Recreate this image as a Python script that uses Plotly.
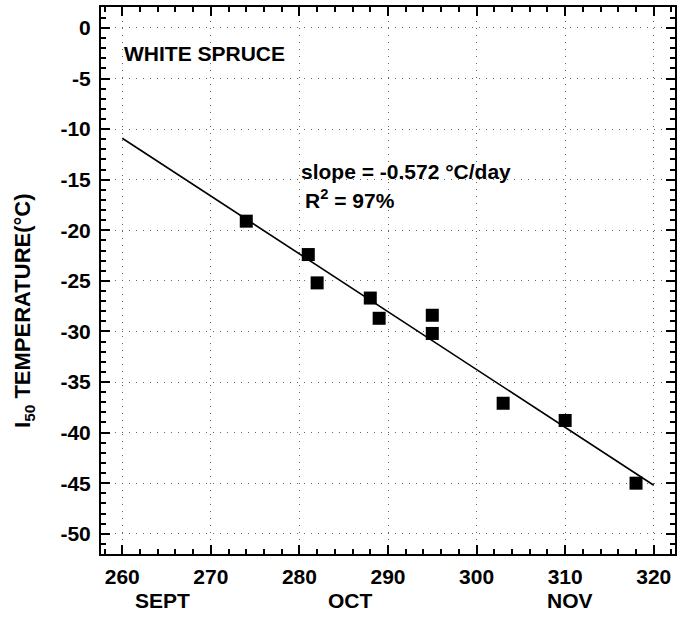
import plotly.graph_objects as go

# Data
day = [274, 281, 282, 288, 289, 295, 295, 303, 310, 318]
i50_temp = [-19.1, -22.4, -25.2, -26.7, -28.7, -28.4, -30.2, -37.1, -38.8, -45.0]

fit_x = [260, 320]
fit_y = [-10.9, -45.2]

x_ticks = [260, 270, 280, 290, 300, 310, 320]
y_ticks = [0, -5, -10, -15, -20, -25, -30, -35, -40, -45, -50]
y_tick_text = ["0", "-5", "-10", "-15", "-20", "-25", "-30", "-35", "-40", "-45", "-50"]
months = ["SEPT", "OCT", "NOV"]
month_pos = [264.5, 285.8, 310.5]

FONT = "Liberation Sans, Arial, sans-serif"
FS = 21

fig = go.Figure()
fig.add_trace(go.Scatter(x=fit_x, y=fit_y, mode="lines",
                         line=dict(color="black", width=1.6),
                         showlegend=False, hoverinfo="skip"))
fig.add_trace(go.Scatter(x=day, y=i50_temp, mode="markers",
                         marker=dict(symbol="square", size=13, color="black"),
                         showlegend=False))

grid_dash = "1px,6px"
fig.update_xaxes(range=[257.6, 322.4], tickvals=x_ticks, ticks="inside",
                 ticklen=9, tickwidth=2, tickcolor="black",
                 minor=dict(dtick=2, ticks="inside", ticklen=5, tickwidth=1.5,
                            tickcolor="black", showgrid=False),
                 showline=True, linecolor="black", linewidth=2, mirror="ticks",
                 showgrid=True, gridcolor="#666", griddash=grid_dash, gridwidth=1,
                 zeroline=False, ticklabelstandoff=3,
                 tickfont=dict(family=FONT, size=FS, color="black", weight="bold"))
fig.update_yaxes(range=[-52, 2.07], tickvals=y_ticks, ticktext=y_tick_text,
                 ticks="inside",
                 ticklen=9, tickwidth=2, tickcolor="black",
                 minor=dict(dtick=1, ticks="inside", ticklen=5, tickwidth=1.5,
                            tickcolor="black", showgrid=False),
                 showline=True, linecolor="black", linewidth=2, mirror="ticks",
                 showgrid=True, gridcolor="#666", griddash=grid_dash, gridwidth=1,
                 zeroline=False, ticklabelstandoff=4,
                 tickfont=dict(family=FONT, size=FS, color="black", weight="bold"))

bold = dict(family=FONT, size=FS, color="black", weight="bold")
annotations = []
for m, p in zip(months, month_pos):
    annotations.append(dict(text=m, x=p, y=-0.0856, xref="x", yref="paper",
                            showarrow=False, xanchor="center", yanchor="middle",
                            font=bold))
annotations.append(dict(text="I<sub>50</sub> TEMPERATURE(°C)", x=-0.134, y=0.4445,
                        xref="paper", yref="paper", textangle=-90, showarrow=False,
                        xanchor="center", yanchor="middle",
                        font=dict(family=FONT, size=22, color="black", weight="bold")))
annotations.append(dict(text="WHITE SPRUCE", x=260, y=-2.56, xref="x", yref="y",
                        showarrow=False, xanchor="left", yanchor="middle",
                        font=bold))
annotations.append(dict(text="slope = -0.572 °C/day",
                        x=280, y=-14.2, xref="x", yref="y", align="left",
                        showarrow=False, xanchor="left", yanchor="middle",
                        font=bold))
annotations.append(dict(text="R<sup>2</sup> = 97%",
                        x=280.4, y=-16.9, xref="x", yref="y", align="left",
                        showarrow=False, xanchor="left", yanchor="middle",
                        font=bold))

fig.update_layout(width=691, height=619,
                  margin=dict(l=101, r=16, t=5, b=65),
                  plot_bgcolor="white", paper_bgcolor="white",
                  annotations=annotations)

fig.write_html("out.html")
